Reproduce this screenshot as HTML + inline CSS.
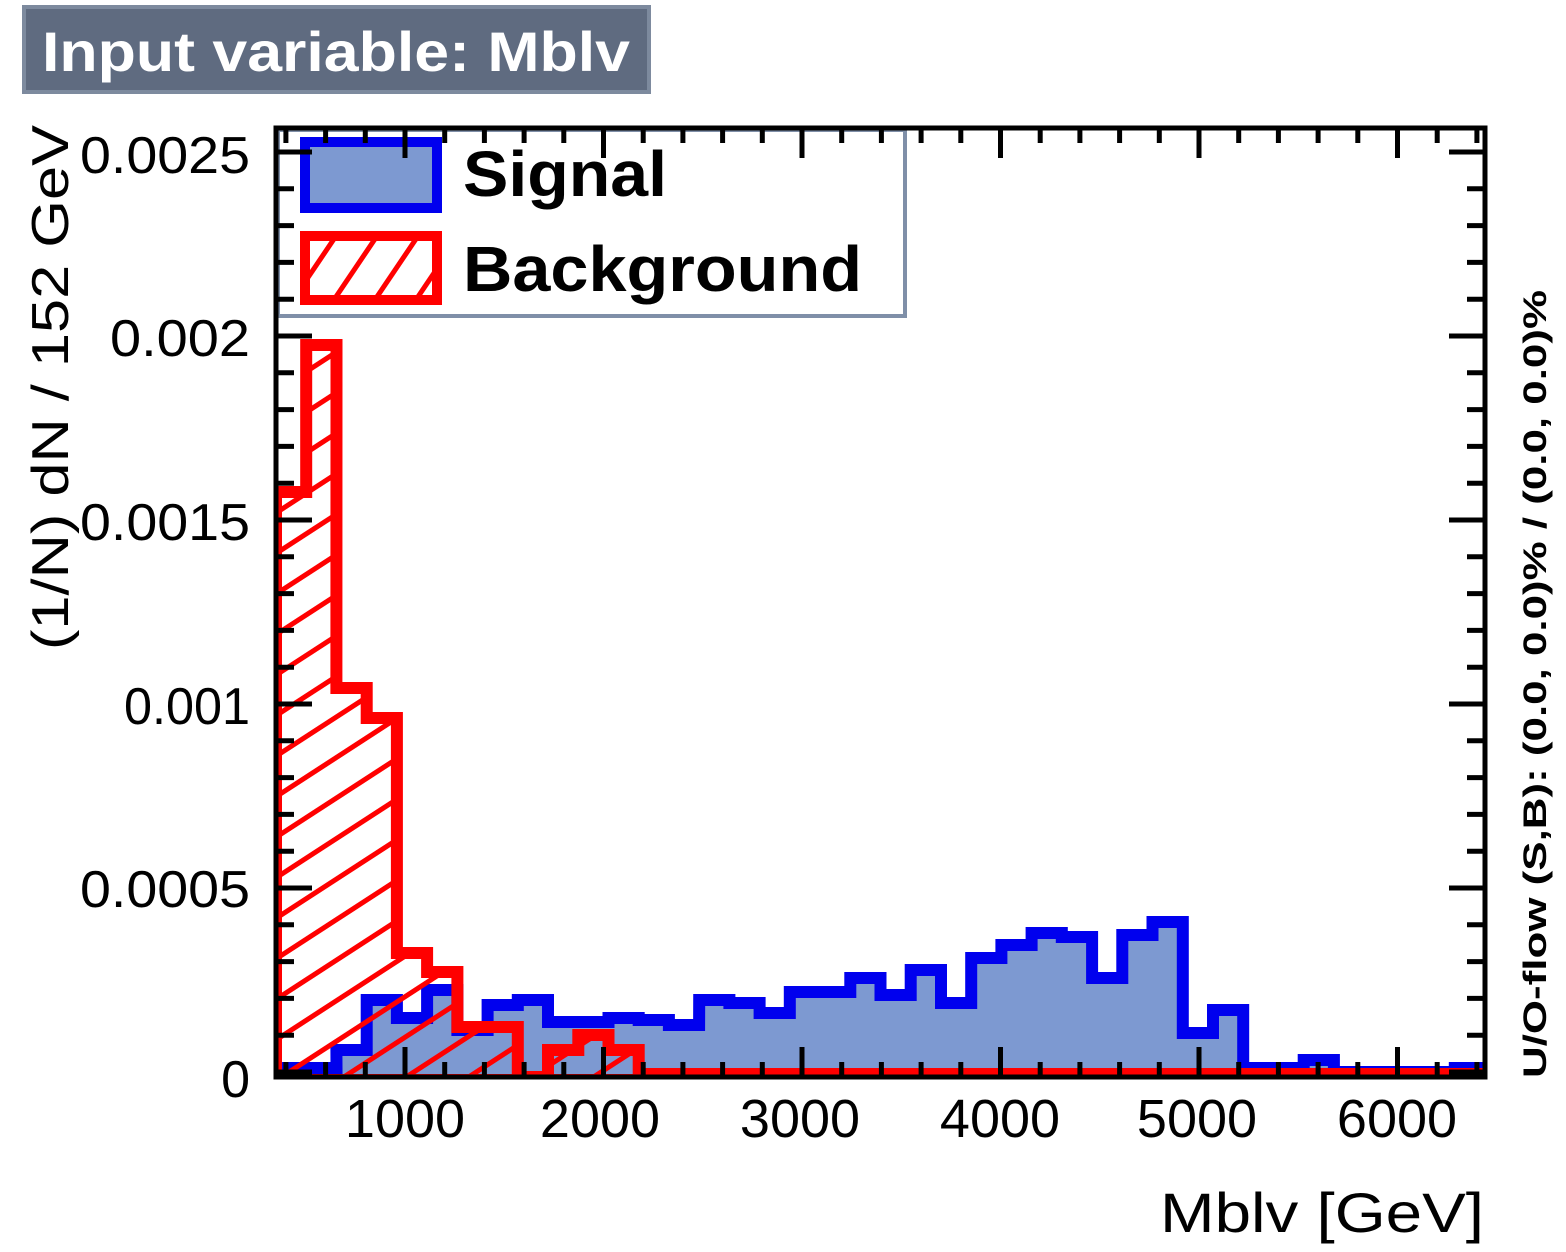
<!DOCTYPE html>
<html><head><meta charset="utf-8"><style>
html,body{margin:0;padding:0;background:#fff;}
svg{display:block;font-family:"Liberation Sans",Arial,sans-serif;}
</style></head><body>
<svg id="s" width="1566" height="1252" viewBox="0 0 1566 1252" xmlns="http://www.w3.org/2000/svg">
<defs>
<pattern id="hatch" patternUnits="userSpaceOnUse" width="34" height="34" patternTransform="rotate(-33)">
<rect x="0" y="0" width="34" height="5" fill="#ff0000"/>
</pattern>
<pattern id="hatchL" patternUnits="userSpaceOnUse" width="34" height="34" patternTransform="rotate(-56)">
<rect width="34" height="34" fill="#fff"/>
<rect x="0" y="0" width="34" height="5" fill="#ff0000"/>
</pattern>
<clipPath id="pc"><rect x="276" y="128" width="1209" height="949"/></clipPath>
</defs>
<rect x="24" y="7" width="625" height="85" fill="#5f6b80" stroke="#7d8a9e" stroke-width="4"/>
<text x="42" y="71" font-size="56" font-weight="bold" fill="#fff" textLength="588" lengthAdjust="spacingAndGlyphs">Input variable: Mblv</text>
<g clip-path="url(#pc)">
<path id="sig" fill="#7d99d1" stroke="#0000ee" stroke-width="12" stroke-linejoin="miter"/>
<path id="bkg" fill="url(#hatch)" stroke="#ff0000" stroke-width="12"/>
</g>
<rect x="278" y="130" width="627" height="186" fill="#fff" stroke="#7f8fa8" stroke-width="4"/>
<rect x="305" y="142" width="132" height="66" fill="#7d99d1" stroke="#0000ee" stroke-width="10"/>
<rect x="305" y="236" width="132" height="64" fill="url(#hatchL)" stroke="#ff0000" stroke-width="10"/>
<text x="463" y="196" font-size="64" font-weight="bold" textLength="204" lengthAdjust="spacingAndGlyphs">Signal</text>
<text x="463" y="291" font-size="64" font-weight="bold" textLength="399" lengthAdjust="spacingAndGlyphs">Background</text>
<g id="ticks" stroke="#000" stroke-width="5"></g>
<rect x="276" y="128" width="1209" height="949" fill="none" stroke="#000" stroke-width="5"/>
<g font-size="52" text-anchor="end">
<text x="250" y="173" textLength="170" lengthAdjust="spacingAndGlyphs">0.0025</text>
<text x="250" y="356" textLength="140" lengthAdjust="spacingAndGlyphs">0.002</text>
<text x="250" y="540" textLength="170" lengthAdjust="spacingAndGlyphs">0.0015</text>
<text x="250" y="724" textLength="126" lengthAdjust="spacingAndGlyphs">0.001</text>
<text x="250" y="907" textLength="170" lengthAdjust="spacingAndGlyphs">0.0005</text>
<text x="250" y="1097">0</text>
</g>
<g font-size="54" text-anchor="middle">
<text x="405" y="1137">1000</text>
<text x="600" y="1137">2000</text>
<text x="800" y="1137">3000</text>
<text x="1000" y="1137">4000</text>
<text x="1197" y="1137">5000</text>
<text x="1397" y="1137">6000</text>
</g>
<text x="1160" y="1232" font-size="56" textLength="324" lengthAdjust="spacingAndGlyphs">Mblv  [GeV]</text>
<text transform="translate(68,650) rotate(-90)" font-size="52" textLength="525" lengthAdjust="spacingAndGlyphs">(1/N) dN / 152 GeV</text>
<text transform="translate(1546,1078) rotate(-90)" font-size="32" font-weight="bold" textLength="788" lengthAdjust="spacingAndGlyphs">U/O-flow (S,B): (0.0, 0.0)% / (0.0, 0.0)%</text>
</svg>
<script>
var x0=276,w=1209/40;
var bk=[492,345,688,718,953,972,1027,1027,1077,1050,1035,1050];
while(bk.length<40)bk.push(1074);
var sg=[1068,1068,1050,1000,1018,990,1030,1005,1000,1022,1022,1018,1020,1025,1000,1003,1013,992,992,978,995,970,1003,958,945,933,937,978,935,922,1033,1010,1068,1068,1060,1072,1072,1072,1072,1068];
function path(a){var d="M"+x0+" 1080";for(var i=0;i<40;i++){var xa=x0+i*w,xb=xa+w;d+=" L"+xa.toFixed(1)+" "+a[i]+" L"+xb.toFixed(1)+" "+a[i];}d+=" L1485 1080 Z";return d;}
document.getElementById("sig").setAttribute("d",path(sg));
document.getElementById("bkg").setAttribute("d",path(bk));
var g=document.getElementById("ticks"),h="";
var y0=1072,sy=184/0.0005;
for(var k=0;k<=26;k++){var y=y0-k*0.0001*sy;if(y<130)break;var L=(k%5==0)?36:18;
h+='<line x1="276" y1="'+y+'" x2="'+(276+L)+'" y2="'+y+'"/>';
h+='<line x1="1485" y1="'+y+'" x2="'+(1485-L)+'" y2="'+y+'"/>';}
var sx=0.1985;
for(var v=400;v<=6400;v+=200){var x=405+(v-1000)*sx;if(x<278||x>1483)continue;var L=(v%1000==0)?30:15;
h+='<line x1="'+x+'" y1="1077" x2="'+x+'" y2="'+(1077-L)+'"/>';
h+='<line x1="'+x+'" y1="128" x2="'+x+'" y2="'+(128+L)+'"/>';}
g.innerHTML=h;
</script>
</body></html>
